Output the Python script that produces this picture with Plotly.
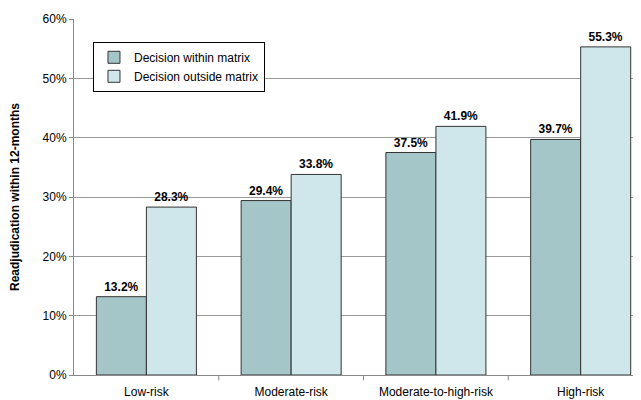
import plotly.graph_objects as go

categories = ["Low-risk", "Moderate-risk", "Moderate-to-high-risk", "High-risk"]
within_matrix = [13.2, 29.4, 37.5, 39.7]
outside_matrix = [28.3, 33.8, 41.9, 55.3]
series_names = ["Decision within matrix", "Decision outside matrix"]
y_ticks = [0, 10, 20, 30, 40, 50, 60]
y_tick_labels = ["0%", "10%", "20%", "30%", "40%", "50%", "60%"]

FONT = "Liberation Sans, Arial, sans-serif"

fig = go.Figure()
fig.add_trace(go.Bar(
    x=categories, y=within_matrix, name=series_names[0],
    marker=dict(color="#A5C6C8", line=dict(color="#333333", width=1)),
    text=[f"{v:.1f}%" for v in within_matrix], textposition="outside",
    textfont=dict(family=FONT, size=12, color="black"),
    texttemplate="<b>%{text}</b>", cliponaxis=False,
))
fig.add_trace(go.Bar(
    x=categories, y=outside_matrix, name=series_names[1],
    marker=dict(color="#CFE7EA", line=dict(color="#333333", width=1)),
    text=[f"{v:.1f}%" for v in outside_matrix], textposition="outside",
    textfont=dict(family=FONT, size=12, color="black"),
    texttemplate="<b>%{text}</b>", cliponaxis=False,
))

fig.update_layout(
    width=641, height=400,
    margin=dict(l=66, r=0, t=11, b=33),
    paper_bgcolor="white", plot_bgcolor="white",
    barmode="group", bargap=0.309, bargroupgap=0,
    font=dict(family=FONT, size=12, color="black"),
    showlegend=True,
    legend=dict(
        x=0.033, y=0.936, xanchor="left", yanchor="top",
        bgcolor="white", bordercolor="black", borderwidth=1,
        font=dict(family=FONT, size=12, color="black"),
        itemwidth=30, tracegroupgap=0,
    ),
    xaxis=dict(
        range=[-0.5, 3.472],
        showline=True, linecolor="#888888", linewidth=1,
        ticks="", showgrid=False, ticklabelstandoff=6,
        tickfont=dict(family=FONT, size=12, color="black"),
    ),
    yaxis=dict(
        range=[0, 60], tickvals=y_ticks, ticktext=y_tick_labels,
        showline=True, linecolor="#888888", linewidth=1,
        ticks="outside", ticklen=4, tickcolor="#888888",
        showgrid=True, gridcolor="#999999", gridwidth=1,
        tickfont=dict(family=FONT, size=12, color="black"),
        title=dict(text="<b>Readjudication within 12-months</b>",
                   font=dict(family=FONT, size=12, color="black"), standoff=20),
        automargin=False,
        zeroline=False,
    ),
)

# Category separator ticks on x axis
for i in range(len(categories) - 1):
    fig.add_shape(type="line", xref="x", yref="paper",
                  x0=i + 0.5, x1=i + 0.5, y0=0, y1=-0.015,
                  line=dict(color="#888888", width=1))

fig.write_html("out.html")
